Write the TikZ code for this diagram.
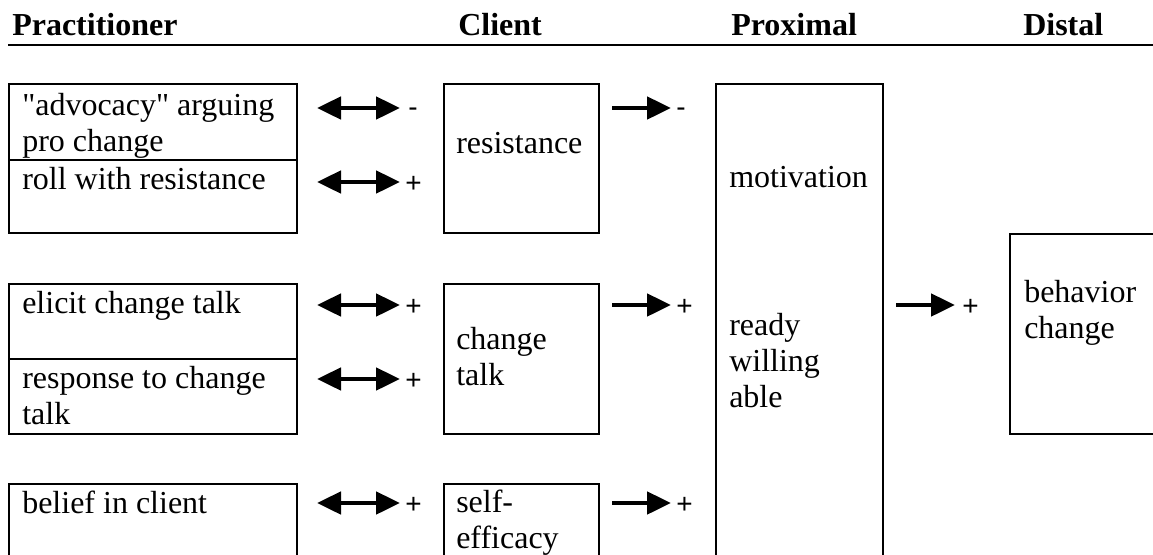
\documentclass[tikz,border=0pt]{standalone}
\usepackage{fontspec}
\setmainfont{Liberation Serif}[Ligatures=TeXOff]
\newfontfamily\signfont{Liberation Sans}
\usetikzlibrary{arrows.meta}

\begin{document}
\begin{tikzpicture}[x=0.75pt,y=-0.75pt,
  box/.style={draw,line width=1.5pt,rectangle,inner sep=0pt,anchor=north west},
  lbl/.style={anchor=north west,inner sep=0pt,align=left,font=\fontsize{24}{27}\selectfont},
  head/.style={anchor=base west,inner sep=0pt,font=\fontsize{24}{27}\selectfont\bfseries},
  sign/.style={anchor=base west,inner sep=0pt,font=\fontsize{21}{24}\selectfont\signfont},
  tip/.tip={Triangle[length=18pt,width=16.5pt]},
  link/.style={line width=3.6pt,-tip},
  dlink/.style={line width=3.6pt,tip-tip},
]
\useasboundingbox (0,0) rectangle (1153,554);
\clip (0,0) rectangle (1153,554);

% column headings and rule
\node[head] (hprac) at (12,35) {Practitioner};
\node[head] (hcli)  at (458,35) {Client};
\node[head] (hprox) at (731,35) {Proximal};
\node[head] (hdist) at (1023,35) {Distal};
\coordinate (ruleL) at (8,45);
\coordinate (ruleR) at (1160,45);
\draw[line width=1.5pt] (ruleL) -- (ruleR);

% practitioner boxes
\node[box,minimum width=216pt,minimum height=57pt]    (adv)    at (8,83)  {};
\node[box,minimum width=216pt,minimum height=54.75pt] (roll)   at (8,159) {};
\node[box,minimum width=216pt,minimum height=56.25pt] (elicit) at (8,283) {};
\node[box,minimum width=216pt,minimum height=56.25pt] (resp)   at (8,358) {};
\node[box,minimum width=216pt,minimum height=57.75pt] (belief) at (8,483) {};

% client boxes
\node[box,minimum width=116.25pt,minimum height=111.75pt] (res) at (443,83)  {};
\node[box,minimum width=116.25pt,minimum height=112.5pt]  (ct)  at (443,283) {};
\node[box,minimum width=116.25pt,minimum height=57.75pt]  (se)  at (443,483) {};

% proximal and distal boxes
\node[box,minimum width=125.25pt,minimum height=357.75pt] (mot) at (715,83)  {};
\node[box,minimum width=113.25pt,minimum height=150pt]    (beh) at (1009,233) {};

% box texts
\node[lbl] (tadv)    at (22,90)     {\strut"advocacy" arguing\\pro change};
\node[lbl] (troll)   at (22,164.5)  {\strut roll with resistance};
\node[lbl] (telicit) at (22,288)    {\strut elicit change talk};
\node[lbl] (tresp)   at (22,363)    {\strut response to change\\talk};
\node[lbl] (tbelief) at (22,488)    {\strut belief in client};
\node[lbl] (tres)    at (456,128.5) {\strut resistance};
\node[lbl] (tct)     at (456,324.5) {\strut change\\talk};
\node[lbl] (tse)     at (456,487)   {\strut self-\\efficacy};
\node[lbl] (tmot)    at (729,162)   {\strut motivation};
\node[lbl] (trwa)    at (729,310)   {\strut ready\\willing\\able};
\node[lbl] (tbeh)    at (1024,277)  {\strut behavior\\change};

% two-way links practitioner <-> client
\foreach \n/\y in {1/108,2/182,3/305,4/379,5/503}{
  \coordinate (pa\n) at (317,\y);
  \coordinate (pb\n) at (400,\y);
  \draw[dlink] (pa\n) -- (pb\n);
}
% one-way links client -> proximal
\foreach \n/\y in {1/108,2/305,3/503}{
  \coordinate (ca\n) at (612,\y);
  \coordinate (cb\n) at (671,\y);
  \draw[link] (ca\n) -- (cb\n);
}
% proximal -> distal
\coordinate (ma) at (896,305);
\coordinate (mb) at (955,305);
\draw[link] (ma) -- (mb);

% signs
\node[sign] (s1) at (408,116) {-};
\node[sign] (s2) at (405,192) {+};
\node[sign] (s3) at (405,315) {+};
\node[sign] (s4) at (405,389) {+};
\node[sign] (s5) at (405,513) {+};
\node[sign] (s6) at (676,116) {-};
\node[sign] (s7) at (676,315) {+};
\node[sign] (s8) at (676,513) {+};
\node[sign] (s9) at (962,315) {+};
\end{tikzpicture}
\end{document}
